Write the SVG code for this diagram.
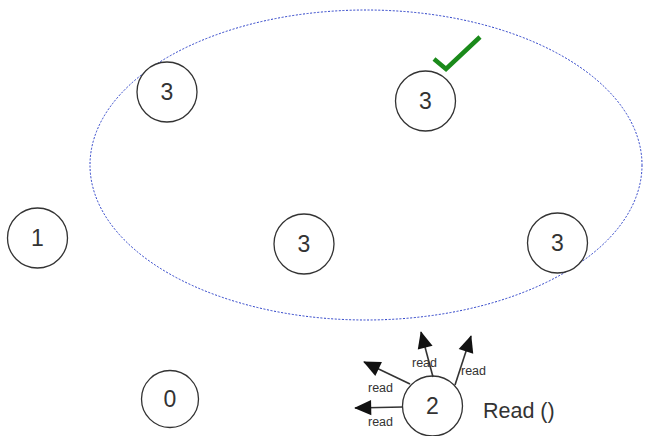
<svg xmlns="http://www.w3.org/2000/svg" width="648" height="436" viewBox="0 0 648 436">
  <style>
    .node circle { fill: #ffffff; stroke: #333333; stroke-width: 1.3; }
    .node text { font-family: "Liberation Sans", Arial, sans-serif; font-size: 23px; fill: #333333; text-anchor: middle; dominant-baseline: central; }
    .group { fill: none; stroke: #2a3fc8; stroke-width: 1; stroke-dasharray: 2 1.6; }
    .edge { stroke: #333333; stroke-width: 1.6; fill: none; marker-end: url(#head); }
    .lbl { font-family: "Liberation Sans", Arial, sans-serif; font-size: 12.5px; fill: #333333; }
    .call { font-family: "Liberation Sans", Arial, sans-serif; font-size: 21.5px; fill: #333333; }
  </style>
  <defs>
    <marker id="head" viewBox="0 0 10 10" refX="9" refY="5" markerWidth="9" markerHeight="9" markerUnits="userSpaceOnUse" orient="auto" overflow="visible">
      <path d="M-9,-3.5 L10,5 L-9,13.5 Z" fill="#111111"/>
    </marker>
  </defs>
  <rect width="648" height="436" fill="#ffffff"/>

  <!-- quorum boundary -->
  <ellipse class="group" cx="366" cy="165" rx="276" ry="155"/>

  <!-- replicas -->
  <g id="n-top-left" class="node"><circle cx="167" cy="92" r="30"/><text x="167" y="92">3</text></g>
  <g id="n-top-right" class="node"><circle cx="425.5" cy="101" r="30"/><text x="425.5" y="101">3</text></g>
  <g id="n-one" class="node"><circle cx="37.5" cy="238" r="30"/><text x="37.5" y="238">1</text></g>
  <g id="n-mid" class="node"><circle cx="304" cy="244" r="30"/><text x="304" y="244">3</text></g>
  <g id="n-right" class="node"><circle cx="557.5" cy="243" r="30"/><text x="557.5" y="243">3</text></g>
  <g id="n-zero" class="node"><circle cx="170" cy="399" r="28.5"/><text x="170" y="399">0</text></g>
  <g id="n-client" class="node"><circle cx="432.5" cy="406" r="30"/><text x="432.5" y="406">2</text></g>

  <!-- chosen replica tick -->
  <g id="tick">
    <path d="M434,59 L446,69 L480,37" fill="none" stroke="#1a8a1a" stroke-width="4.5" stroke-linejoin="miter"/>
  </g>

  <!-- read requests -->
  <g id="connectors">
    <line class="edge" x1="403" y1="407" x2="355" y2="408"/>
    <line class="edge" x1="410" y1="384" x2="364" y2="362"/>
    <line class="edge" x1="433" y1="377" x2="421" y2="332"/>
    <line class="edge" x1="455" y1="385" x2="471" y2="336"/>
  </g>

  <g id="labels">
    <text class="lbl" x="412" y="367">read</text>
    <text class="lbl" x="461" y="375">read</text>
    <text class="lbl" x="368" y="392">read</text>
    <text class="lbl" x="368" y="426">read</text>
    <text class="call" x="483" y="418">Read ()</text>
  </g>
</svg>
